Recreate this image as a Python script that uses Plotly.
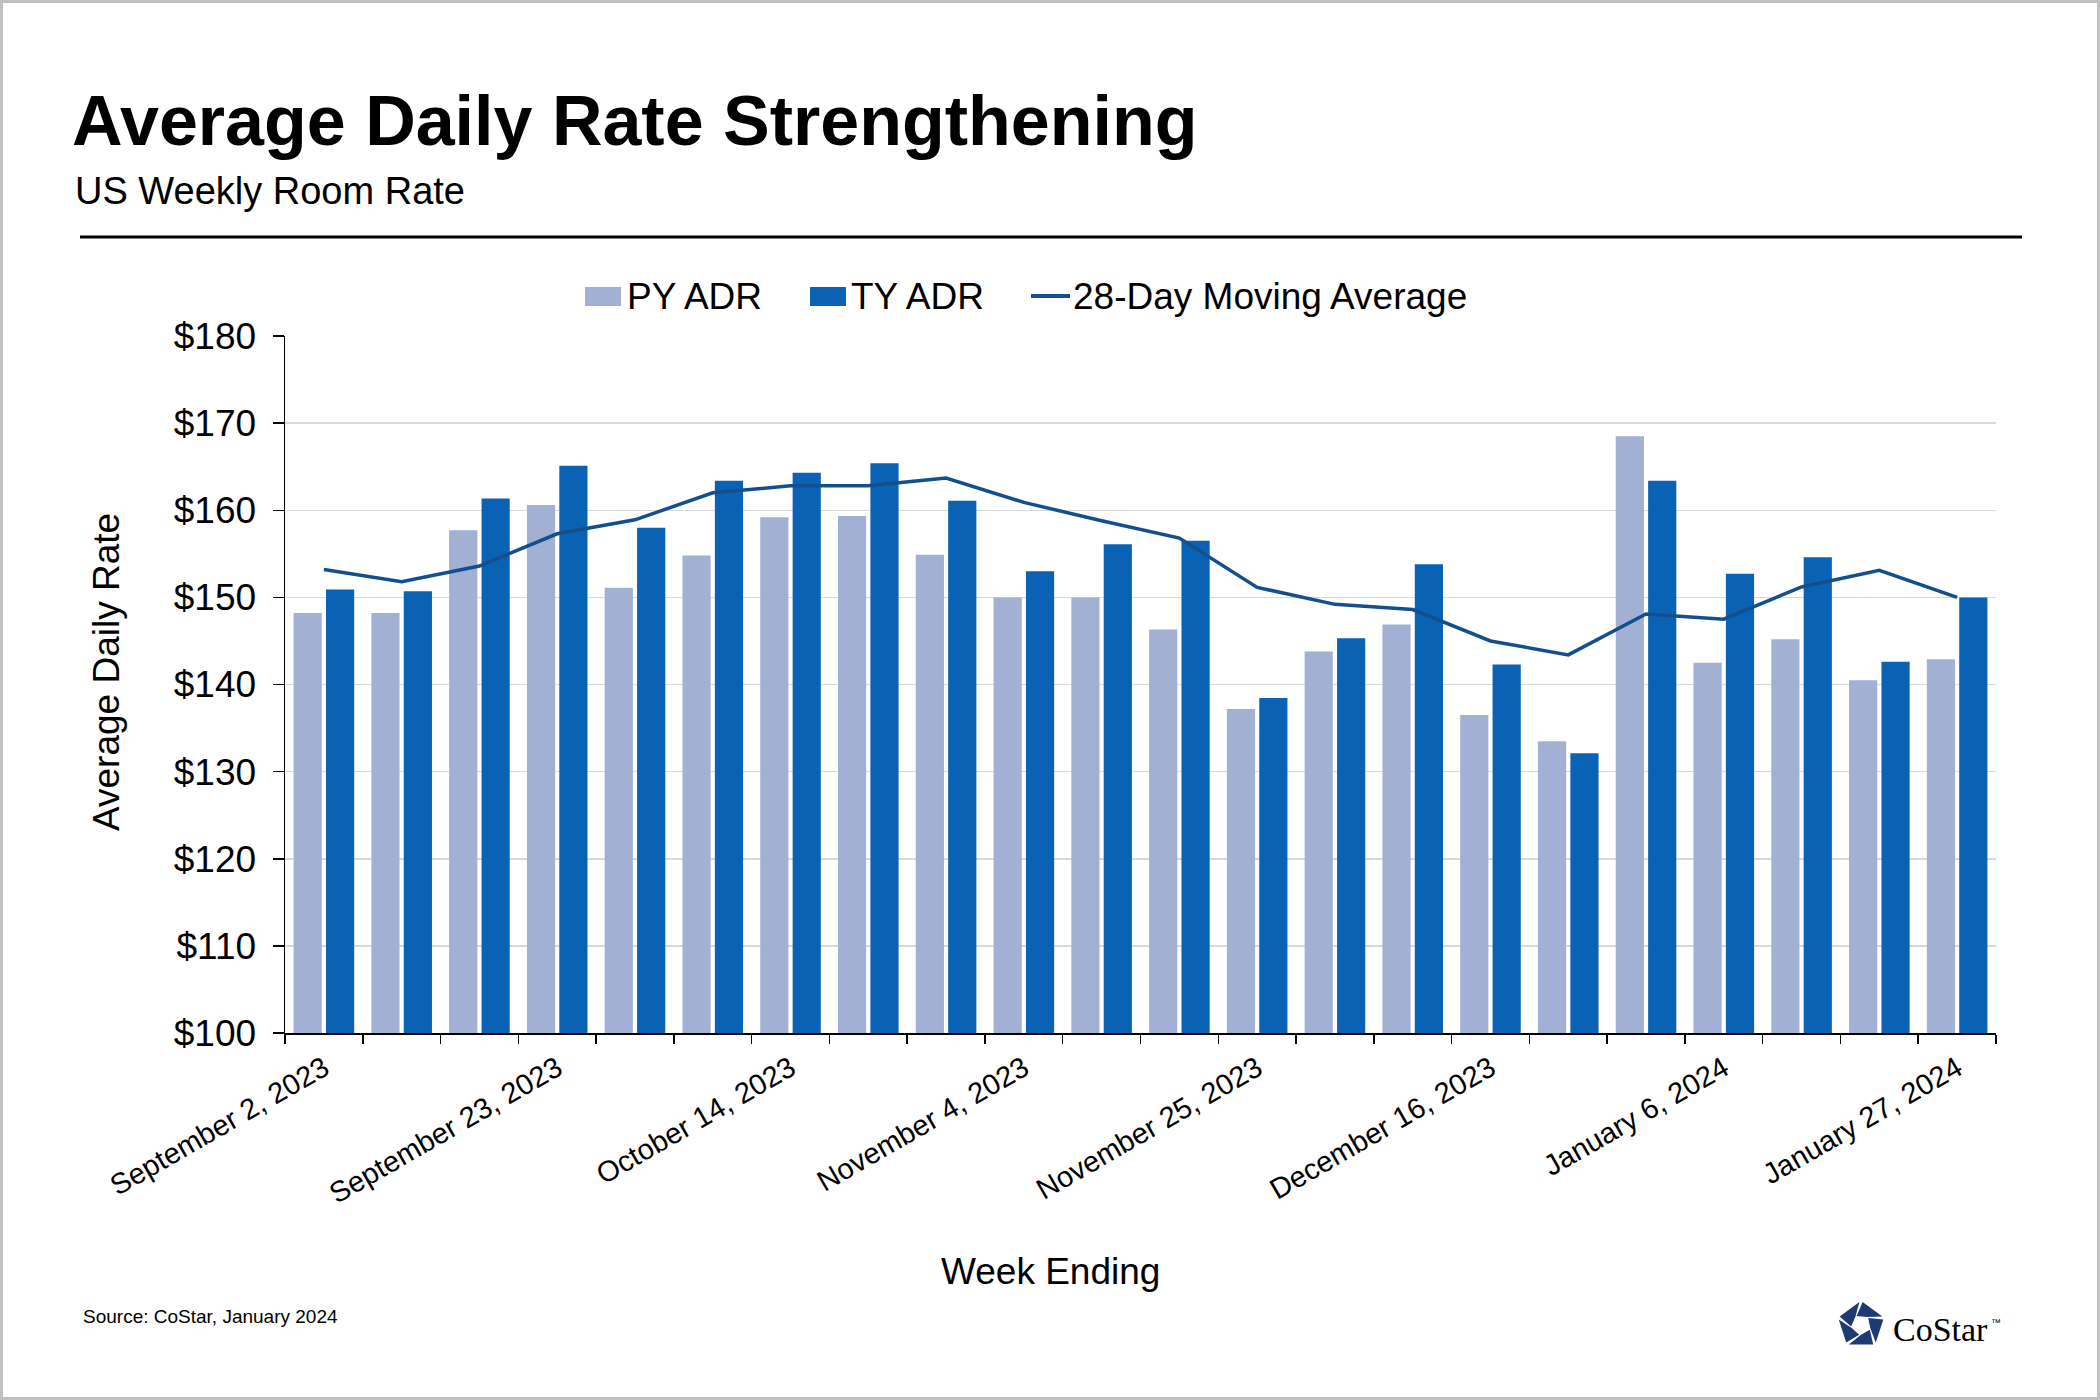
import math
import plotly.graph_objects as go

# ---------------- data ----------------
weeks = [
    "September 2, 2023", "September 9, 2023", "September 16, 2023", "September 23, 2023",
    "September 30, 2023", "October 7, 2023", "October 14, 2023", "October 21, 2023",
    "October 28, 2023", "November 4, 2023", "November 11, 2023", "November 18, 2023",
    "November 25, 2023", "December 2, 2023", "December 9, 2023", "December 16, 2023",
    "December 23, 2023", "December 30, 2023", "January 6, 2024", "January 13, 2024",
    "January 20, 2024", "January 27, 2024",
]
py_adr = [148.2, 148.2, 157.7, 160.6, 151.1, 154.8, 159.2, 159.35, 154.9, 150.0, 150.0,
          146.3, 137.2, 143.8, 146.9, 136.5, 133.5, 168.5, 142.5, 145.2, 140.5, 142.9]
ty_adr = [150.9, 150.7, 161.35, 165.1, 158.0, 163.4, 164.3, 165.4, 161.1, 153.0, 156.1,
          156.5, 138.45, 145.3, 153.8, 142.3, 132.1, 163.4, 152.7, 154.6, 142.6, 150.0]
moving_avg = [153.2, 151.8, 153.6, 157.3, 158.9, 162.0, 162.8, 162.8, 163.7, 160.9, 158.8,
              156.8, 151.15, 149.2, 148.6, 145.0, 143.4, 148.1, 147.5, 151.2, 153.1, 150.0]
series_names = ["PY ADR", "TY ADR", "28-Day Moving Average"]
label_every = 3
y_ticks = [100, 110, 120, 130, 140, 150, 160, 170, 180]
y_ticktext = [f"${v}" for v in y_ticks]

# ---------------- styles ----------------
FONT = "Liberation Sans, Arial, Helvetica, sans-serif"
C_PY = "#a2b0d4"
C_TY = "#0a62b4"
C_MA = "#134f8c"
W, H = 2100, 1400
L, R, T, B = 285, 1996, 336, 1033
PW, PH = R - L, B - T


def px(X):
    return (X - L) / PW


def py(Y):
    return (B - Y) / PH


fig = go.Figure()
fig.add_trace(go.Bar(x=weeks, y=py_adr, name=series_names[0], marker_color=C_PY,
                     marker_line_width=0, showlegend=False))
fig.add_trace(go.Bar(x=weeks, y=ty_adr, name=series_names[1], marker_color=C_TY,
                     marker_line_width=0, showlegend=False))
fig.add_trace(go.Scatter(x=weeks, y=moving_avg, name=series_names[2], mode="lines",
                         line=dict(color=C_MA, width=3.5), showlegend=False))

ticktext = [w if i % label_every == 0 else "" for i, w in enumerate(weeks)]

annotations = []
shapes = []


def text(s, X, Y, size, xanchor="left", angle=0, bold=False, color="black", family=FONT):
    annotations.append(dict(
        text=f"<b>{s}</b>" if bold else s, x=px(X), y=py(Y), xref="paper", yref="paper",
        xanchor=xanchor, yanchor="middle", showarrow=False, textangle=angle,
        font=dict(family=family, size=size, color=color)))


# titles
text("Average Daily Rate Strengthening", 70, 121, 70, bold=True)
text("US Weekly Room Rate", 73, 191, 38)
shapes.append(dict(type="line", xref="paper", yref="paper", x0=px(80), x1=px(2022),
                   y0=py(237), y1=py(237), line=dict(color="black", width=3)))

# custom legend
shapes.append(dict(type="rect", xref="paper", yref="paper", x0=px(585), x1=px(621),
                   y0=py(287), y1=py(306), fillcolor=C_PY, line=dict(width=0)))
text(series_names[0], 625, 296, 37)
shapes.append(dict(type="rect", xref="paper", yref="paper", x0=px(810), x1=px(846),
                   y0=py(287), y1=py(306), fillcolor=C_TY, line=dict(width=0)))
text(series_names[1], 849, 296, 37)
shapes.append(dict(type="line", xref="paper", yref="paper", x0=px(1031), x1=px(1070),
                   y0=py(296), y1=py(296), line=dict(color=C_MA, width=4)))
text(series_names[2], 1071, 296, 37)

# axis titles
text("Average Daily Rate", 106, 672, 37, xanchor="center", angle=-90)
text("Week Ending", 1050, 1271, 37, xanchor="center")

# source
text("Source: CoStar, January 2024", 81, 1316, 19)

# CoStar logo
cx, cy, Ro, Ri = 1861, 1325, 23, 10
for k in range(5):
    a0 = math.radians(90 + 72 * k + 4)
    a1 = math.radians(90 + 72 * (k + 1) - 4)
    b0 = a0 + math.radians(30)
    b1 = a1 + math.radians(30)
    pts = [(cx + Ro * math.cos(a0), cy - Ro * math.sin(a0)),
           (cx + Ro * math.cos(a1), cy - Ro * math.sin(a1)),
           (cx + Ri * math.cos(b1), cy - Ri * math.sin(b1)),
           (cx + Ri * math.cos(b0), cy - Ri * math.sin(b0))]
    path = "M " + " L ".join(f"{px(xx):.5f},{py(yy):.5f}" for xx, yy in pts) + " Z"
    shapes.append(dict(type="path", xref="paper", yref="paper", path=path,
                       fillcolor="#1f3a73", line=dict(width=0)))
text("CoStar", 1891, 1329, 34, family="Liberation Serif, Times New Roman, serif")
text("™", 1989, 1322, 10)

# frame
shapes.append(dict(type="rect", xref="paper", yref="paper", x0=px(1.5), x1=px(W - 1.5),
                   y0=py(1.5), y1=py(H - 1.5), line=dict(color="#c0c0c0", width=3),
                   fillcolor="rgba(0,0,0,0)", layer="below"))

fig.update_layout(
    width=W, height=H,
    margin=dict(l=L, r=W - R, t=T, b=H - B, pad=0),
    paper_bgcolor="white", plot_bgcolor="white",
    barmode="group", bargap=0.167, bargroupgap=0.13,
    font=dict(family=FONT, color="black"),
    showlegend=False,
    annotations=annotations, shapes=shapes,
    hovermode=False,
)
fig.update_xaxes(
    type="category", tickmode="array", tickvals=weeks, ticktext=ticktext,
    tickson="boundaries", ticks="outside", ticklen=9, tickwidth=1.5, tickcolor="black",
    tickangle=-30, tickfont=dict(size=29, family=FONT, color="black"), ticklabelstandoff=5,
    showline=True, linecolor="black", linewidth=2, showgrid=False, zeroline=False,
)
fig.update_yaxes(
    range=[y_ticks[0], y_ticks[-1]], tickmode="array", tickvals=y_ticks, ticktext=y_ticktext,
    ticks="outside", ticklen=11, tickwidth=1.5, tickcolor="black",
    tickfont=dict(size=37, family=FONT, color="black"), ticklabelstandoff=9,
    showline=True, linecolor="black", linewidth=1.5,
    showgrid=True, gridcolor="#d9d9d9", gridwidth=1.5, zeroline=False,
)

fig.write_html(
    "out.html",
    config={"displayModeBar": False, "staticPlot": True},
    post_script="document.body.style.margin='0';document.body.style.padding='0';",
)
